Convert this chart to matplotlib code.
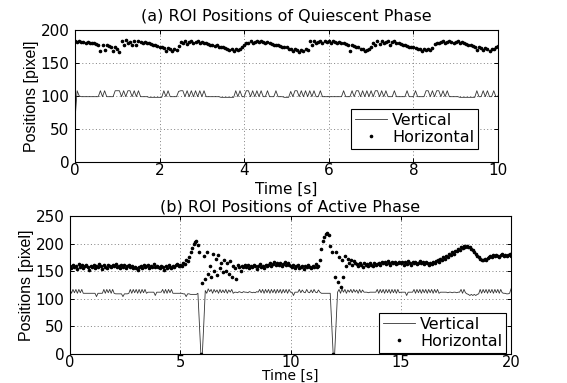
import numpy as np
import matplotlib
matplotlib.use('Agg')
import matplotlib.pyplot as plt

plt.rcParams['font.family'] = ['DejaVu Sans']

# frames per second of the sampled traces (one row below = one second)
FPS_A = 20
FPS_B = 15

# (a) quiescent phase, 0..10 s
vert_a = [65, 108, 100, 99, 99, 99, 99, 99, 99, 99, 99, 99, 108, 99, 108, 99, 99, 99, 99, 108,
          108, 108, 99, 108, 99, 108, 108, 99, 108, 99, 108, 99, 99, 99, 99, 98, 98, 98, 98, 98,
          98, 98, 108, 99, 108, 99, 99, 99, 99, 107, 108, 108, 99, 108, 99, 108, 99, 108, 99, 108,
          99, 108, 99, 99, 99, 99, 99, 99, 99, 98, 98, 98, 98, 98, 98, 98, 108, 99, 108, 99,
          99, 108, 108, 99, 108, 99, 108, 99, 108, 99, 99, 108, 99, 99, 99, 108, 99, 99, 99, 98,
          98, 98, 107, 99, 108, 108, 99, 108, 99, 108, 99, 108, 99, 108, 99, 99, 108, 99, 99, 99,
          99, 99, 99, 99, 99, 99, 99, 108, 99, 99, 99, 108, 99, 108, 108, 99, 108, 99, 108, 99,
          108, 99, 108, 108, 99, 108, 99, 108, 99, 99, 99, 108, 99, 99, 99, 99, 99, 108, 99, 99,
          99, 108, 99, 99, 99, 99, 108, 108, 99, 108, 99, 108, 108, 99, 108, 99, 108, 99, 99, 99,
          99, 99, 98, 98, 98, 98, 98, 98, 98, 98, 108, 99, 99, 108, 99, 108, 99, 99, 108, 99,
          100]
horz_a = [183, 182, 183, 182, 182, 181, 182, 181, 180, 180, 179, 178, 168, 177, 169, 177, 176, 175, 168, 175,
          172, 166, 183, 178, 185, 180, 182, 178, 183, 178, 183, 182, 181, 182, 180, 181, 179, 178, 177, 176,
          175, 174, 173, 168, 173, 172, 168, 172, 170, 176, 182, 180, 184, 179, 182, 183, 180, 182, 183, 181,
          182, 180, 181, 179, 178, 178, 176, 177, 175, 174, 174, 173, 172, 169, 172, 168, 171, 170, 172, 175,
          178, 181, 180, 183, 181, 182, 183, 182, 183, 182, 181, 182, 180, 179, 178, 178, 177, 176, 175, 175,
          174, 172, 171, 168, 171, 170, 167, 170, 168, 171, 170, 184, 178, 183, 180, 182, 184, 181, 183, 182,
          183, 181, 183, 182, 181, 182, 180, 180, 179, 178, 168, 177, 176, 175, 174, 172, 171, 168, 170, 172,
          175, 180, 177, 183, 179, 184, 180, 182, 183, 178, 182, 183, 180, 181, 179, 178, 177, 176, 175, 175,
          174, 173, 172, 172, 168, 171, 170, 172, 170, 173, 179, 181, 180, 182, 183, 181, 182, 183, 182, 181,
          182, 183, 181, 182, 180, 179, 178, 177, 176, 175, 170, 174, 173, 170, 173, 172, 168, 172, 171, 175,
          176]

# (b) active phase, 0..20 s
vert_b = [117, 110, 117, 111, 117, 110, 117, 111, 117, 110, 110, 110, 110, 110, 110,
          110, 110, 110, 104, 110, 110, 110, 110, 117, 110, 117, 111, 117, 110, 117,
          110, 109, 109, 109, 109, 109, 104, 109, 109, 109, 110, 117, 110, 117, 111,
          117, 110, 117, 110, 117, 111, 117, 110, 112, 112, 112, 112, 112, 106, 112,
          112, 112, 112, 117, 110, 117, 110, 117, 111, 117, 110, 110, 110, 110, 110,
          110, 110, 109, 109, 104, 109, 109, 108, 108, 108, 108, 108, 110, 55, 0,
          0, 55, 115, 110, 118, 113, 117, 110, 117, 112, 116, 110, 117, 111, 116,
          111, 117, 110, 116, 112, 117, 110, 112, 112, 111, 113, 112, 111, 113, 112,
          112, 111, 113, 112, 111, 112, 111, 113, 112, 117, 111, 117, 110, 117, 111,
          117, 110, 117, 111, 117, 110, 117, 111, 117, 110, 117, 111, 117, 110, 117,
          112, 112, 106, 112, 112, 112, 117, 111, 116, 112, 111, 117, 112, 111, 116,
          111, 117, 112, 111, 116, 112, 110, 110, 110, 110, 110, 110, 110, 55, 0,
          0, 55, 112, 117, 110, 118, 112, 117, 110, 116, 112, 117, 111, 117, 112,
          116, 110, 117, 111, 116, 112, 112, 112, 111, 112, 112, 112, 112, 112, 117,
          110, 117, 111, 117, 110, 117, 111, 117, 110, 117, 111, 117, 110, 117, 111,
          112, 112, 112, 112, 106, 112, 112, 112, 112, 117, 110, 117, 111, 117, 110,
          117, 111, 117, 110, 117, 111, 117, 110, 117, 111, 117, 110, 112, 112, 112,
          112, 112, 111, 112, 112, 111, 112, 112, 111, 112, 112, 117, 110, 117, 111,
          109, 108, 106, 108, 106, 108, 106, 108, 109, 117, 110, 117, 111, 117, 110,
          117, 111, 117, 110, 117, 111, 117, 110, 117, 111, 110, 110, 109, 109, 110,
          118]
horz_b = [160, 156, 162, 157, 160, 154, 163, 158, 161, 155, 159, 162, 157, 153, 160,
          158, 162, 155, 160, 157, 163, 159, 154, 161, 158, 156, 162, 160, 157, 161,
          159, 163, 157, 160, 155, 162, 158, 161, 156, 159, 162, 157, 160, 155, 158,
          156, 152, 158, 160, 155, 162, 157, 159, 161, 156, 160, 158, 163, 157, 160,
          158, 155, 160, 157, 152, 159, 156, 161, 158, 155, 160, 157, 161, 163, 159,
          162, 160, 165, 163, 170, 168, 175, 185, 192, 200, 203, 204, 198, 185, 0,
          128, 178, 135, 185, 145, 160, 140, 182, 150, 172, 143, 180, 155, 165, 148,
          170, 150, 165, 145, 168, 140, 160, 155, 135, 162, 158, 150, 160, 157, 162,
          158, 161, 155, 160, 157, 162, 159, 154, 160, 163, 157, 160, 156, 161, 159,
          162, 165, 160, 163, 166, 161, 164, 162, 165, 160, 163, 166, 162, 164, 161,
          160, 157, 162, 155, 159, 161, 156, 158, 160, 154, 159, 157, 161, 158, 156,
          160, 158, 163, 157, 160, 170, 190, 205, 212, 218, 220, 215, 195, 185, 0,
          140, 185, 130, 175, 122, 170, 140, 178, 160, 172, 165, 170, 162, 168, 165,
          163, 160, 165, 162, 158, 164, 161, 163, 159, 165, 162, 160, 164, 161, 163,
          165, 162, 167, 164, 166, 163, 168, 165, 162, 167, 164, 166, 163, 165, 167,
          164, 167, 162, 166, 163, 168, 165, 162, 166, 164, 167, 163, 165, 168, 164,
          166, 163, 167, 164, 162, 165, 163, 166, 164, 168, 170, 167, 172, 170, 175,
          173, 178, 176, 181, 179, 184, 182, 187, 186, 190, 189, 193, 192, 195, 194,
          196, 193, 194, 190, 188, 185, 182, 178, 176, 172, 171, 170, 172, 171, 174,
          175, 178, 176, 179, 177, 180, 178, 176, 179, 181, 178, 180, 177, 179, 181,
          178]

t_a = np.arange(len(vert_a)) / FPS_A
t_b = np.arange(len(vert_b)) / FPS_B


def style_axes(ax, xmax, xstep, ymax, xsize=11):
    ax.set_xlim(0, xmax)
    ax.set_ylim(0, ymax)
    ax.set_xticks(np.arange(0, xmax + 1, xstep))
    ax.set_yticks(np.arange(0, ymax + 1, 50))
    ax.grid(True, color='#808080', linestyle=(0, (1, 2.5)), linewidth=0.7)
    ax.tick_params(direction='in', length=3, width=0.7, top=True, right=True,
                   labelsize=11, pad=4)
    ax.tick_params(axis='x', pad=0.5, labelsize=xsize)
    for sp in ax.spines.values():
        sp.set_linewidth(0.8)
    ax.set_ylabel('Positions [pixel]', family='Liberation Sans', fontsize=11.5, labelpad=1)


def add_legend(ax, anchor):
    leg = ax.legend(loc='lower right', bbox_to_anchor=anchor, borderaxespad=0,
                    fancybox=False, edgecolor='k', framealpha=1, fontsize=11.5,
                    handlelength=2.0, handletextpad=0.3, borderpad=0.25,
                    labelspacing=0.15, numpoints=1)
    leg.get_frame().set_linewidth(0.8)


fig = plt.figure(figsize=(5.67, 3.83), dpi=100)

ax1 = fig.add_axes([0.1323, 0.577, 0.746, 0.3446])
ax1.plot(t_a, vert_a, color='#333333', linewidth=0.6, label='Vertical')
ax1.plot(t_a, horz_a, linestyle='none', marker='.', markersize=3.2, color='k', label='Horizontal')
style_axes(ax1, 10, 2, 200)
ax1.set_title('(a) ROI Positions of Quiescent Phase', fontsize=11.5, pad=7)
ax1.set_xlabel('Time [s]', fontsize=11)
ax1.xaxis.set_label_coords(0.5, -0.15)
add_legend(ax1, (0.953, 0.098))

ax2 = fig.add_axes([0.1235, 0.0757, 0.7778, 0.3603])
ax2.plot(t_b, vert_b, color='#333333', linewidth=0.6, label='Vertical')
ax2.plot(t_b, horz_b, linestyle='none', marker='.', markersize=3.2, color='k', label='Horizontal')
style_axes(ax2, 20, 5, 250, xsize=10.5)
ax2.set_title('(b) ROI Positions of Active Phase', fontsize=11.5, pad=3)
ax2.set_xlabel('Time [s]', fontsize=10)
ax2.xaxis.set_label_coords(0.5, -0.108)
add_legend(ax2, (0.989, 0.007))

fig.savefig('out.png', dpi=100)
